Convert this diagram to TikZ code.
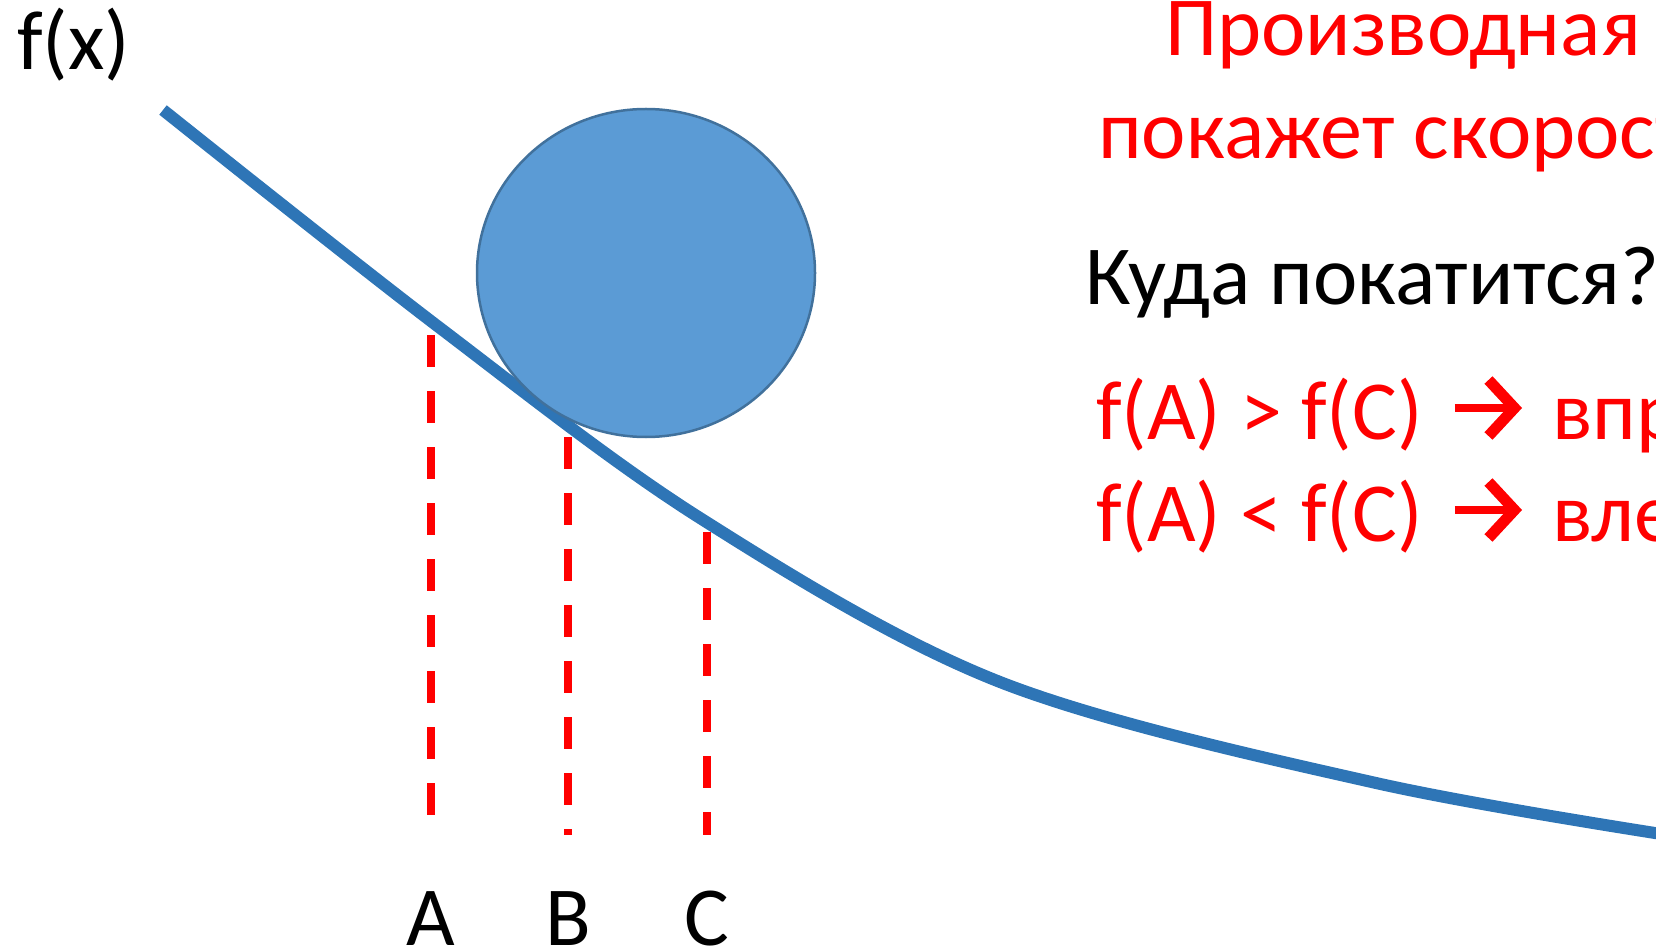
\documentclass[tikz,border=0pt]{standalone}
\usepackage{fontspec}
\setmainfont{Carlito}
\usetikzlibrary{arrows.meta}
\definecolor{curveblue}{HTML}{2E75B6}
\definecolor{ballfill}{HTML}{5B9BD5}
\definecolor{balledge}{HTML}{41719C}
\definecolor{slidered}{HTML}{FF0000}

\begin{document}
\begin{tikzpicture}[
  x=1pt, y=-1pt,
  big/.style={inner sep=0pt, anchor=base west, font=\fontsize{84}{100}\selectfont},
  redtext/.style={big, text=slidered},
  tick/.style={inner sep=0pt, anchor=base, font=\fontsize{84}{100}\selectfont},
  dropline/.style={slidered, line width=8pt, dash pattern=on 32pt off 24pt},
  fatarrow/.style={slidered, line width=8pt,
                   -{Straight Barb[length=26pt, width=56pt, line width=11pt]}},
  slope/.style={curveblue, line width=12pt},
  ball/.style={fill=ballfill, draw=balledge, line width=2.5pt}
]
  \clip (0,0) rectangle (1656,949);

  % the slope and the ball on it
  \draw[slope] plot[smooth, tension=0.55] coordinates
    {(163,110) (440,328) (700,518) (1000,682) (1376,783) (1700,840)};
  \draw[ball] (646,273) ellipse [x radius=169pt, y radius=164pt];

  % points A, B, C
  \node[tick] (labA) at (431,945) {A};
  \node[tick] (labB) at (568,945) {B};
  \node[tick] (labC) at (707,945) {C};
  \coordinate (topA) at (431,335);
  \coordinate (topB) at (568,437);
  \coordinate (topC) at (707,532);
  \coordinate (botA) at (431,815);
  \coordinate (botB) at (568,835);
  \coordinate (botC) at (707,835);
  \draw[dropline] (topA) -- (botA);
  \draw[dropline] (topB) -- (botB);
  \draw[dropline] (topC) -- (botC);

  % texts
  \node[big] (fxlabel) at (17,70) {f(x)};
  \node[redtext] (title) at (1165,56) {Производная};
  \node[redtext] (subtitle) at (1098,159) {покажет скорость};
  \node[big] (question) at (1085,305) {Куда покатится?};
  \node[redtext] (ruleright) at (1096,439) {f(A) > f(C)};
  \node[redtext] (goright) at (1552,439) {вправо};
  \node[redtext] (ruleleft) at (1096,541) {f(A) < f(C)};
  \node[redtext] (goleft) at (1552,541) {влево};
  \draw[fatarrow] ([xshift=32pt, yshift=31pt]ruleright.base east)
    -- ([xshift=-30pt, yshift=31pt]goright.base west);
  \draw[fatarrow] ([xshift=32pt, yshift=31pt]ruleleft.base east)
    -- ([xshift=-30pt, yshift=31pt]goleft.base west);
\end{tikzpicture}
\end{document}
